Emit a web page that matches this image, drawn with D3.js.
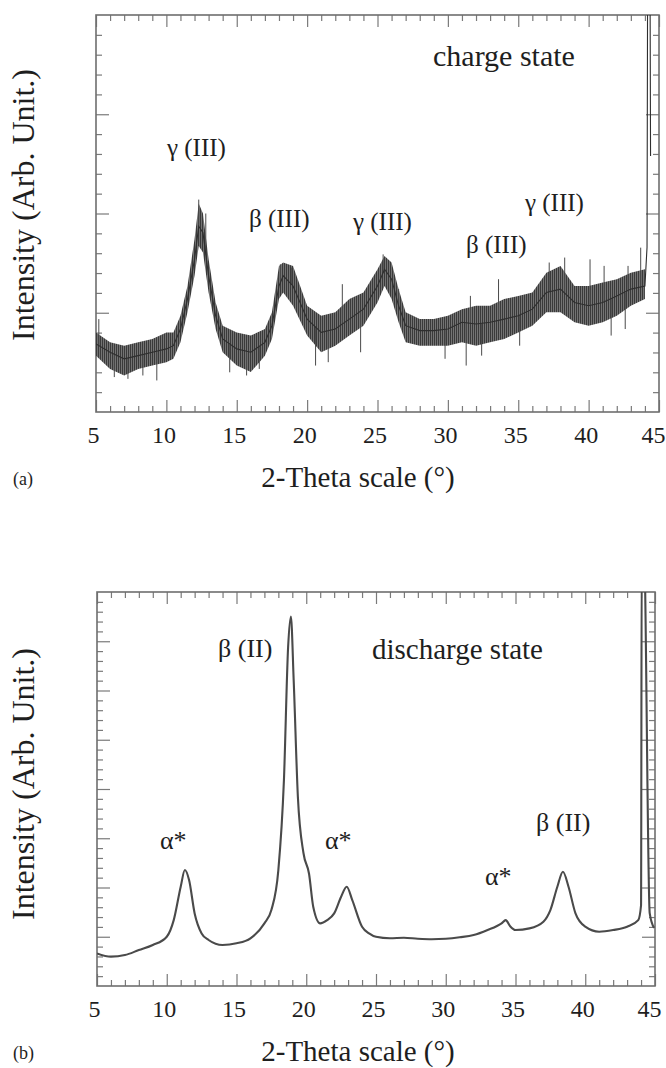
<!DOCTYPE html>
<html>
<head>
<meta charset="utf-8">
<script src="https://cdn.jsdelivr.net/npm/d3@7"></script>
<style>
  body { margin: 0; background: #fff; }
</style>
</head>
<body>
<svg id="fig" width="666" height="1068"></svg>
<script>
const serif = 'Liberation Serif'

// ---- shared axis stuff
const xTickLabels = [5, 10, 15, 20, 25, 30, 35, 40, 45]

// ---- panel (a) charge state : the trace is a noisy band, read as mid / low / high
const thetaA = [5, 6, 7, 8, 9, 10, 10.5, 11, 11.5, 12, 12.3, 12.6, 13, 13.5, 14, 15, 16, 17, 17.5, 18, 18.3, 19, 20, 21, 22, 23, 24, 25, 25.5, 26, 26.5, 27, 28, 29, 30, 31, 32, 33, 34, 35, 36, 37, 38, 39, 40, 41, 42, 43, 44]
const midA = [3.43, 3.01, 2.68, 2.84, 3.01, 3.18, 3.34, 4.18, 5.69, 7.69, 9.36, 9.03, 6.86, 4.85, 3.68, 3.18, 3.01, 3.51, 4.35, 6.35, 6.86, 6.35, 4.68, 4.01, 4.18, 4.68, 5.18, 6.35, 7.19, 6.69, 5.35, 4.35, 4.10, 4.10, 4.18, 4.52, 4.43, 4.52, 4.68, 4.85, 5.18, 6.02, 6.19, 5.52, 5.35, 5.52, 5.85, 6.19, 6.35]
const loA = [2.84, 2.17, 1.84, 2.17, 2.34, 2.51, 2.68, 3.51, 5.02, 6.86, 8.36, 8.03, 6.02, 4.18, 3.01, 2.34, 2.01, 2.84, 3.68, 5.69, 6.02, 5.35, 3.85, 3.01, 3.34, 3.85, 4.35, 5.52, 6.35, 5.69, 4.52, 3.51, 3.34, 3.34, 3.34, 3.51, 3.34, 3.51, 3.68, 4.01, 4.35, 5.02, 5.02, 4.52, 4.35, 4.52, 4.85, 5.35, 5.69]
const hiA = [4.01, 3.51, 3.34, 3.51, 3.68, 4.01, 4.01, 4.85, 6.35, 8.70, 10.5, 10.0, 7.69, 5.52, 4.35, 4.01, 3.85, 4.18, 5.02, 7.36, 7.53, 7.36, 5.35, 4.85, 5.02, 5.69, 6.02, 7.19, 7.86, 7.53, 6.19, 5.02, 4.68, 4.68, 4.85, 5.18, 5.35, 5.35, 5.69, 5.85, 6.02, 7.02, 7.36, 6.35, 6.35, 6.52, 6.69, 7.02, 7.19]
// single noise spikes sticking out of the band: [theta, base, tip]
const spikesA = [
  [5.2, 3.35, 4.68], [6.3, 2.9, 1.76], [7.27, 2.7, 1.67], [8.33, 2.9, 1.84], [9.32, 3.05, 1.59],
  [12.3, 9.36, 10.7], [12.8, 7.9, 10.0], [14.5, 3.4, 2.0], [15.7, 3.05, 1.84], [16.6, 3.3, 2.17],
  [18.1, 6.5, 7.44], [18.9, 6.4, 7.27], [20.6, 4.3, 2.34], [21.5, 4.1, 2.51], [22.5, 4.4, 6.44],
  [23.8, 5.1, 3.01], [25.4, 7.0, 7.94], [26.5, 5.35, 6.19], [29.8, 4.15, 2.68], [31.3, 4.5, 2.34],
  [31.6, 4.5, 5.85], [32.4, 4.45, 2.84], [33.6, 4.6, 6.69], [35.1, 4.9, 3.34], [37.2, 6.05, 7.53],
  [38.3, 6.0, 7.78], [40.1, 5.35, 7.69], [41.1, 5.55, 7.36], [41.6, 5.7, 3.85], [42.6, 6.0, 4.18],
  [42.8, 6.1, 7.36], [43.7, 6.3, 8.28]
]
// the big reflection at the right edge runs off the top
const edgeThetaA = [44.15, 44.2, 44.35, 44.4]
const edgeA = [8.3, 25, 25, 12.9]
const labelsA = [
  {t: 'charge state', x: 433, y: 66, size: 30},
  {t: 'γ (III)', x: 167, y: 156, size: 25},
  {t: 'β (III)', x: 249, y: 227, size: 25},
  {t: 'γ (III)', x: 353, y: 230, size: 25},
  {t: 'β (III)', x: 466, y: 253, size: 25},
  {t: 'γ (III)', x: 525, y: 211, size: 25}
]

// ---- panel (b) discharge state
const thetaB = [5, 6, 7, 8, 9, 10, 10.5, 11, 11.3, 11.6, 12, 12.5, 13, 14, 15, 16, 17, 17.5, 18, 18.4, 18.7, 18.9, 19.1, 19.4, 19.8, 20.2, 20.5, 21, 21.5, 22, 22.5, 22.9, 23.3, 24, 24.5, 25, 26, 27, 28, 29, 30, 31, 32, 33, 34, 34.3, 34.6, 35, 36, 37, 37.5, 38, 38.4, 38.8, 39.3, 40, 41, 42, 43, 43.8, 44.0, 44.05, 44.2, 44.62, 44.93]
const intB = [3.31, 2.98, 3.14, 3.65, 4.16, 5.0, 6.69, 10.08, 11.77, 10.75, 7.37, 5.34, 4.67, 4.16, 4.33, 4.84, 6.36, 7.71, 11.77, 20.9, 34.4, 37.5, 31.0, 19.2, 13.5, 11.4, 8.05, 6.36, 6.69, 7.37, 9.06, 10.08, 8.72, 6.02, 5.34, 5.0, 4.85, 4.9, 4.8, 4.75, 4.8, 4.95, 5.17, 5.68, 6.36, 6.69, 6.1, 5.68, 5.85, 6.53, 7.71, 10.08, 11.6, 10.08, 7.37, 6.02, 5.51, 5.68, 6.02, 6.69, 8.2, 45, 45, 7.4, 5.9]
const labelsB = [
  {t: 'β (II)', x: 218, y: 657, size: 26},
  {t: 'discharge state', x: 372, y: 659, size: 29},
  {t: 'α*', x: 160, y: 849, size: 26},
  {t: 'α*', x: 325, y: 849, size: 26},
  {t: 'α*', x: 485, y: 885, size: 26},
  {t: 'β (II)', x: 536, y: 831, size: 26}
]

const svg = d3.select('#fig')
svg.append('rect').attr('width', 666).attr('height', 1068).attr('fill', '#fff')

// vertical hatch so the noisy band doesn't look like a flat ribbon
const pat = svg.append('defs').append('pattern')
  .attr('id', 'noise').attr('patternUnits', 'userSpaceOnUse')
  .attr('width', 2).attr('height', 6)
pat.append('rect').attr('width', 2).attr('height', 6).attr('fill', '#7a7a7a')
pat.append('rect').attr('width', 1.1).attr('height', 6).attr('fill', '#3a3a3a')

// draws frame + inward ticks on all 4 sides, gives back the scales
function makePanel(o) {
  const x = d3.scaleLinear().domain([5, 45]).range([o.left, o.right])
  const y = d3.scaleLinear().domain([0, o.yMax]).range([o.bottom, o.top])
  const g = svg.append('g')

  g.append('clipPath').attr('id', 'clip-' + o.id)
    .append('rect')
    .attr('x', o.left).attr('y', o.top)
    .attr('width', o.right - o.left).attr('height', o.bottom - o.top)

  const xMinor = d3.range(5, 46, 1).filter(d => d % 5 != 0)
  const yMajor = d3.range(5, o.yMax, 5)
  const yMinor = d3.range(1, o.yMax, 1).filter(d => d % 5 != 0)

  const axes = [
    [d3.axisBottom(x).tickValues(xTickLabels).tickSizeInner(-12).tickSizeOuter(0).tickPadding(14), `translate(0,${o.bottom})`, true],
    [d3.axisBottom(x).tickValues(xMinor).tickSize(-6).tickFormat(''), `translate(0,${o.bottom})`],
    [d3.axisTop(x).tickValues(xTickLabels).tickSize(-12).tickFormat(''), `translate(0,${o.top})`],
    [d3.axisTop(x).tickValues(xMinor).tickSize(-6).tickFormat(''), `translate(0,${o.top})`],
    [d3.axisLeft(y).tickValues(yMajor).tickSize(-13).tickFormat(''), `translate(${o.left},0)`],
    [d3.axisLeft(y).tickValues(yMinor).tickSize(-6).tickFormat(''), `translate(${o.left},0)`],
    [d3.axisRight(y).tickValues(yMajor).tickSize(-13).tickFormat(''), `translate(${o.right},0)`],
    [d3.axisRight(y).tickValues(yMinor).tickSize(-6).tickFormat(''), `translate(${o.right},0)`]
  ]
  axes.forEach(([ax, tr, labelled]) => {
    const a = g.append('g').attr('transform', tr).call(ax)
    a.select('.domain').remove()
    a.selectAll('line').attr('stroke', '#7a7a7a').attr('stroke-width', 1.2)
    if (labelled) {
      a.attr('font-family', serif).attr('font-size', 24)
      a.selectAll('text')
        .attr('fill', '#1e1e1e')
        .attr('dx', d => d == 45 ? -6 : -3)
    }
  })

  g.append('rect')
    .attr('x', o.left).attr('y', o.top)
    .attr('width', o.right - o.left).attr('height', o.bottom - o.top)
    .attr('fill', 'none').attr('stroke', '#6e6e6e').attr('stroke-width', 1.6)

  // y label
  svg.append('text')
    .attr('transform', `translate(34,${o.yLabelY}) rotate(-90)`)
    .attr('text-anchor', 'middle')
    .attr('font-family', serif)
    .attr('font-size', 32)
    .attr('fill', '#1e1e1e')
    .text('Intensity (Arb. Unit.)')

  // x label + panel letter
  svg.append('text')
    .attr('x', 358).attr('y', o.titleY)
    .attr('text-anchor', 'middle')
    .attr('font-family', serif)
    .attr('font-size', 29)
    .attr('fill', '#1e1e1e')
    .text('2-Theta scale (°)')
  svg.append('text')
    .attr('x', 13).attr('y', o.titleY - 2)
    .attr('font-family', serif)
    .attr('font-size', 18)
    .attr('fill', '#1e1e1e')
    .text(o.letter)

  o.labels.forEach(l => {
    svg.append('text').attr('x', l.x).attr('y', l.y)
      .attr('font-family', serif)
      .attr('font-size', l.size)
      .attr('fill', '#1e1e1e')
      .text(l.t)
  })

  const plot = svg.append('g').attr('clip-path', `url(#clip-${o.id})`)
  return {x, y, plot}
}

// ---- panel (a)
const pa = makePanel({id: 'a', left: 96, right: 659, top: 15, bottom: 412, yMax: 20,
  yLabelY: 205, titleY: 487, letter: '(a)', labels: labelsA})

const bandA = thetaA.map((t, i) => ({t, lo: loA[i], hi: hiA[i]}))
pa.plot.append('path')
  .datum(bandA)
  .attr('fill', 'url(#noise)')
  .attr('d', d3.area().x(d => pa.x(d.t)).y0(d => pa.y(d.lo)).y1(d => pa.y(d.hi)))

pa.plot.selectAll('.spike')
  .data(spikesA)
  .join('line')
    .attr('class', 'spike')
    .attr('x1', d => pa.x(d[0])).attr('x2', d => pa.x(d[0]))
    .attr('y1', d => pa.y(d[1])).attr('y2', d => pa.y(d[2]))
    .attr('stroke', '#4a4a4a').attr('stroke-width', 1)

const lineA = thetaA.map((t, i) => ({t, v: midA[i]}))
  .concat(edgeThetaA.map((t, i) => ({t, v: edgeA[i]})))
pa.plot.append('path')
  .datum(lineA)
  .attr('fill', 'none')
  .attr('stroke', '#2e2e2e')
  .attr('stroke-width', 1.1)
  .attr('d', d3.line().x(d => pa.x(d.t)).y(d => pa.y(d.v)))

// ---- panel (b)
const pb = makePanel({id: 'b', left: 97, right: 655, top: 592, bottom: 986, yMax: 40,
  yLabelY: 784, titleY: 1061, letter: '(b)', labels: labelsB})

const lineB = thetaB.map((t, i) => ({t, v: intB[i]}))
pb.plot.append('path')
  .datum(lineB)
  .attr('fill', 'none')
  .attr('stroke', '#4a4a4a')
  .attr('stroke-width', 2.1)
  .attr('d', d3.line().curve(d3.curveMonotoneX).x(d => pb.x(d.t)).y(d => pb.y(d.v)))
</script>
</body>
</html>
